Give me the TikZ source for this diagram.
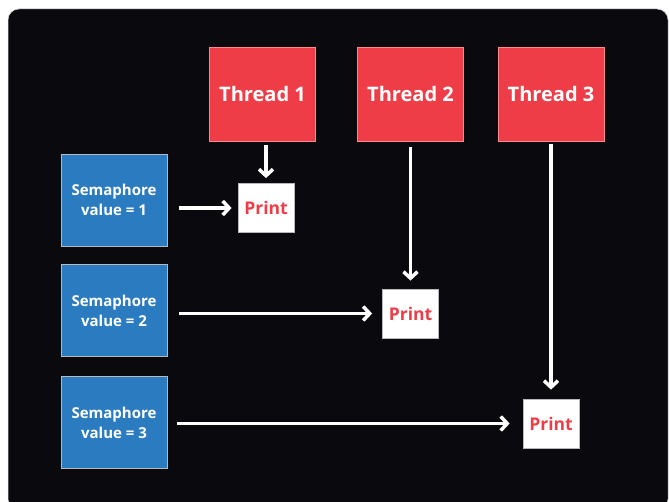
\documentclass[tikz,border=0pt]{standalone}
\usepackage{fontspec}
\setmainfont{Open Sans}
\usetikzlibrary{arrows.meta}
\definecolor{bgdark}{HTML}{0A0A0E}
\definecolor{threadred}{HTML}{EE3D47}
\definecolor{semblue}{HTML}{2B7BC0}
\definecolor{edgegray}{HTML}{B8B8C0}
\tikzset{
  thread/.style={fill=threadred, draw=threadred!60!white, line width=0.8pt,
    minimum width=106pt, minimum height=94pt, inner sep=0pt,
    text=white, font=\fontsize{20}{24}\selectfont\bfseries},
  sem/.style={fill=semblue, draw=edgegray, line width=0.8pt,
    minimum width=106pt, minimum height=92pt, inner sep=0pt, align=center,
    text=white, font=\fontsize{15}{20}\selectfont\bfseries},
  printbox/.style={fill=white, draw=edgegray, line width=0.8pt,
    minimum width=56pt, minimum height=49pt, inner sep=0pt,
    text=threadred, font=\fontsize{17.5}{20}\selectfont\bfseries},
  flow/.style={draw=white, line width=3.5pt,
    -{Straight Barb[length=6.5pt,width=14pt,line width=3.5pt]}},
}
\begin{document}
\begin{tikzpicture}[x=1pt, y=-1pt]
  \useasboundingbox (0,0) rectangle (669,502);
  \fill[bgdark, draw=edgegray!60, line width=0.5pt, rounded corners=11pt]
    (8,9) rectangle (668,510);

  % threads
  \node[thread] (t1) at (262.5,94) {Thread 1};
  \node[thread] (t2) at (410.5,94) {Thread 2};
  \node[thread] (t3) at (551,94) {Thread 3};

  % semaphores
  \node[sem] (s1) at (114,200) {Semaphore\\value = 1};
  \node[sem] (s2) at (114,310.5) {Semaphore\\value = 2};
  \node[sem] (s3) at (114,422.5) {Semaphore\\value = 3};

  % print steps
  \node[printbox] (p1) at (266,208) {Print};
  \node[printbox] (p2) at (410.5,313.5) {Print};
  \node[printbox] (p3) at (551,423.5) {Print};

  % arrows
  \draw[flow] ([yshift=-4pt]t1.south -| p1.north) -- ([yshift=5pt]p1.north);
  \draw[flow] ([yshift=-6pt]t2.south) -- ([yshift=8pt]p2.north);
  \draw[flow] ([yshift=-3pt]t3.south) -- ([yshift=9pt]p3.north);
  \draw[flow] ([xshift=12pt]s1.east |- p1.west) -- ([xshift=-6pt]p1.west);
  \draw[flow] ([xshift=12pt]s2.east |- p2.west) -- ([xshift=-10pt]p2.west);
  \draw[flow] ([xshift=10pt]s3.east |- p3.west) -- ([xshift=-13pt]p3.west);
\end{tikzpicture}
\end{document}
